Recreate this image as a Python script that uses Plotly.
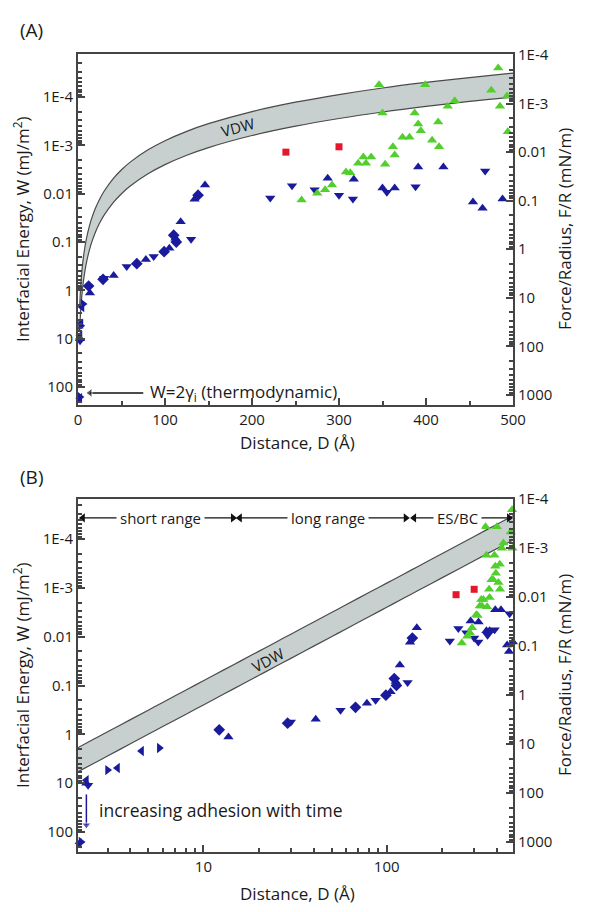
import numpy as np
import plotly.graph_objects as go

# ---------------- data (D in Angstrom, W in mJ/m^2) ----------------
blue_up_D = [2.3, 13.7, 41, 78, 105, 112, 118, 134, 146, 287, 317, 350, 364, 391, 420, 454, 465, 488]
blue_up_W = [10, 1.13, 0.49, 0.23, 0.135, 0.083, 0.038, 0.013, 0.0066, 0.0048, 0.005, 0.0076,
             0.0076, 0.0028, 0.0028, 0.0148, 0.02, 0.0129]

blue_down_D = [2.35, 30, 56, 87, 130, 221, 246, 272, 300, 316, 355, 388, 468]
blue_down_W = [11, 0.56, 0.32, 0.2, 0.087, 0.0123, 0.0068, 0.0083, 0.0107, 0.0129, 0.0093, 0.0072, 0.0034]

blue_diamond_D = [12.2, 28.8, 67.6, 99, 110, 113, 138]
blue_diamond_W = [0.81, 0.59, 0.28, 0.158, 0.072, 0.1, 0.0107]

blue_left_D = [2.1, 2.3, 3.4, 4.6]
blue_left_W = [170, 8.7, 4.9, 2.2]

blue_right_D = [2.15, 3.0, 5.75]
blue_right_W = [160, 5.4, 1.9]

green_D = [257, 275, 284, 292, 308, 313, 322, 331, 328, 337, 346, 350, 353, 362, 364, 373, 381,
           387, 391, 394, 399, 407, 414, 415, 425, 433, 475, 483, 485, 493, 494]
green_W = [0.0135, 0.0098, 0.0083, 0.0066, 0.00355, 0.0037, 0.00234, 0.00234, 0.00174, 0.00174,
           5.6e-5, 2.14e-4, 0.00245, 0.00107, 0.00158, 6.8e-4, 6.8e-4, 2.14e-4, 3.6e-4, 5.0e-4,
           5.6e-5, 7.8e-4, 3.3e-4, 0.00107, 1.55e-4, 1.2e-4, 7.2e-5, 2.5e-5, 1.55e-4, 9.5e-5, 5.2e-4]

red_D = [239, 300]
red_W = [0.00138, 0.00107]

# VDW band edges
band_D = [2, 2.5, 3, 4, 5, 6, 8, 10, 13, 16, 20, 25, 30, 40, 50, 60, 80, 100, 125, 150,
          200, 250, 300, 350, 400, 450, 500]
band_W_low = [2.0, 1.28, 0.889, 0.5, 0.32, 0.222, 0.125, 0.08, 0.0473, 0.03125, 0.02, 0.0128,
              0.00889, 0.005, 0.0032, 0.00222, 0.00125, 0.0008, 0.000512, 0.000356, 0.0002,
              0.000128, 8.9e-5, 6.5e-5, 5.0e-5, 3.95e-5, 3.2e-5]
band_W_high = [6.25, 4.0, 2.78, 1.56, 1.0, 0.694, 0.391, 0.25, 0.148, 0.0977, 0.0625, 0.04,
               0.0278, 0.0156, 0.01, 0.00694, 0.00391, 0.0025, 0.0016, 0.00111, 0.000625,
               0.0004, 0.000278, 0.000204, 0.000156, 0.000123, 0.0001]

# tick labels
W_ticks = [1e-4, 1e-3, 1e-2, 1e-1, 1, 10, 100]
W_ticktext = ["1E-4", "1E-3", "0.01", "0.1", "1", "10", "100"]
FR_ticks = [1e-4, 1e-3, 1e-2, 1e-1, 1, 10, 100, 1000]
FR_ticktext = ["1E-4", "1E-3", "0.01", "0.1", "1", "10", "100", "1000"]
D_lin_ticks = [0, 100, 200, 300, 400, 500]
D_log_ticks = [10, 100]
D_log_ticktext = ["10", "100"]

# annotation anchors (data units)
ranges_B = [("short range", 2.2, 14.5, 5.8), ("long range", 15.8, 127, 47.6), ("ES/BC", 141, 465, 244)]
range_W = 3.7e-5
thermo_arrow_D = [75, 13.8]
thermo_W = 132
adhesion_D = 2.30
adhesion_W = [17, 72]

# ---------------- styling ----------------
BLUE = "#1a1a9c"
GREEN = "#52cf2c"
RED = "#e3182d"
BAND = "#c8d0cf"
FONT = "Open Sans"
TXT = "#1a1a1a"

# page body has an 8px margin: figure is laid out in page pixels shifted by 8
OFF = 8
FW, FH = 573, 896
def px(x):
    return (x - OFF) / FW
def py(y):
    return 1 - (y - OFF) / FH

fig = go.Figure()

def add_panel(xa, ya, yb):
    fig.add_trace(go.Scatter(x=band_D, y=band_W_low, mode="lines", line=dict(color="#4a4a4a", width=1.2, shape="spline"),
                             xaxis=xa, yaxis=ya, showlegend=False, hoverinfo="skip"))
    fig.add_trace(go.Scatter(x=band_D, y=band_W_high, mode="lines", line=dict(color="#4a4a4a", width=1.2, shape="spline"),
                             fill="tonexty", fillcolor=BAND, xaxis=xa, yaxis=ya, showlegend=False, hoverinfo="skip"))
    series = [
        (blue_up_D, blue_up_W, "triangle-up", BLUE, 9),
        (blue_down_D, blue_down_W, "triangle-down", BLUE, 9),
        (blue_diamond_D, blue_diamond_W, "diamond", BLUE, 9),
        (blue_left_D, blue_left_W, "triangle-left", BLUE, 9),
        (blue_right_D, blue_right_W, "triangle-right", BLUE, 9),
        (green_D, green_W, "triangle-up", GREEN, 9),
        (red_D, red_W, "square", RED, 7),
    ]
    for dx, wy, sym, col, sz in series:
        fig.add_trace(go.Scatter(x=dx, y=wy, mode="markers", cliponaxis=False,
                                 marker=dict(symbol=sym, color=col, size=sz, line=dict(width=0)),
                                 xaxis=xa, yaxis=ya, showlegend=False))
    fig.add_trace(go.Scatter(x=[None], y=[None], xaxis=xa, yaxis=yb, showlegend=False))

add_panel("x", "y", "y2")
add_panel("x2", "y3", "y4")

# thermodynamic arrow (panel A)
fig.add_trace(go.Scatter(x=thermo_arrow_D, y=[thermo_W, thermo_W], mode="lines+markers", cliponaxis=False,
                         line=dict(color="#111", width=1.5),
                         marker=dict(symbol=["circle", "triangle-left"], size=[0, 8], color="#111"),
                         xaxis="x", yaxis="y", showlegend=False))
# adhesion arrow (panel B)
fig.add_trace(go.Scatter(x=[adhesion_D, adhesion_D], y=adhesion_W, mode="lines+markers", cliponaxis=False,
                         line=dict(color=BLUE, width=1.5),
                         marker=dict(symbol=["circle", "triangle-down"], size=[0, 8], color=BLUE),
                         xaxis="x2", yaxis="y3", showlegend=False))
# range arrows (panel B)
for name, d0, d1, dc in ranges_B:
    fig.add_trace(go.Scatter(x=[d0, d1], y=[range_W, range_W], mode="lines+markers", cliponaxis=False,
                             line=dict(color="#111", width=1.3),
                             marker=dict(symbol=["triangle-left", "triangle-right"], size=8, color="#111"),
                             xaxis="x2", yaxis="y3", showlegend=False))

# ---------------- axes ----------------
minor_log = [k * 10.0 ** e for e in range(-5, 4) for k in range(2, 10)]
minor_D = [k * 10.0 ** e for e in range(0, 3) for k in range(2, 10)]

xdom = [px(78), px(513)]
yA = [py(405), py(54)]
yB = [py(852), py(499)]

tickfont = dict(family=FONT, size=15, color=TXT)
common = dict(showline=True, linecolor="#444", linewidth=2, ticks="inside", tickcolor="#444",
              tickwidth=1.5, ticklen=7, showgrid=False, zeroline=False, tickfont=tickfont,
              automargin=False)

def ylog(rng, tv, tt, **kw):
    d = dict(common)
    d.update(type="log", range=rng, tickmode="array", tickvals=tv, ticktext=tt,
             minor=dict(tickvals=minor_log, ticks="inside", ticklen=4, tickcolor="#444", showgrid=False))
    d.update(kw)
    return d

fig.update_layout(
    width=FW, height=FH, margin=dict(l=0, r=0, t=0, b=0, autoexpand=False),
    paper_bgcolor="white", plot_bgcolor="white",
    font=dict(family=FONT, color=TXT),
    xaxis=dict(common, domain=xdom, anchor="y", range=[0, 500], tickmode="array", tickvals=D_lin_ticks,
               mirror=True, minor=dict(dtick=50, ticks="inside", ticklen=4, tickcolor="#444")),
    yaxis=ylog([2.37, -4.89], W_ticks, W_ticktext, domain=yA, anchor="x"),
    yaxis2=ylog([3.21, -4.02], FR_ticks, FR_ticktext, overlaying="y", side="right", anchor="x"),
    xaxis2=dict(common, domain=xdom, anchor="y3", type="log", range=[0.316, 2.689], tickmode="array",
                tickvals=D_log_ticks, ticktext=D_log_ticktext, mirror=True,
                minor=dict(tickvals=minor_D, ticks="inside", ticklen=4, tickcolor="#444")),
    yaxis3=ylog([2.41, -4.82], W_ticks, W_ticktext, domain=yB, anchor="x2"),
    yaxis4=ylog([3.2, -4.0], FR_ticks, FR_ticktext, overlaying="y3", side="right", anchor="x2"),
)

ann = []
tfont = dict(family=FONT, size=17, color=TXT)
C = dict(xanchor="center", yanchor="middle", showarrow=False)
ann.append(dict(C, text="(A)", x=px(31), y=py(30), xref="paper", yref="paper",
                font=dict(family=FONT, size=19, color=TXT)))
ann.append(dict(C, text="(B)", x=px(31), y=py(477), xref="paper", yref="paper",
                font=dict(family=FONT, size=19, color=TXT)))
for yc in [229, 675]:
    ann.append(dict(C, text="Interfacial Energy, W (mJ/m<sup>2</sup>)", x=px(21), y=py(yc), xref="paper",
                    yref="paper", textangle=-90, font=tfont))
    ann.append(dict(C, text="Force/Radius, F/R (mN/m)", x=px(564), y=py(yc), xref="paper",
                    yref="paper", textangle=-90, font=tfont))
for yc in [442, 893]:
    ann.append(dict(C, text="Distance, D (Å)", x=px(297), y=py(yc), xref="paper", yref="paper", font=tfont))
ann.append(dict(C, text="VDW", x=184, y=np.log10(4.2e-4), xref="x", yref="y", textangle=-15,
                font=dict(family=FONT, size=15, color=TXT)))
ann.append(dict(C, text="VDW", x=np.log10(22.4), y=np.log10(0.030), xref="x2", yref="y3",
                textangle=-28, font=dict(family=FONT, size=15, color=TXT)))
ann.append(dict(text="W=2γ<sub>i</sub> (thermodynamic)", x=80.5, y=np.log10(thermo_W), xref="x", yref="y",
                xanchor="left", yanchor="middle", showarrow=False, font=dict(family=FONT, size=17, color=TXT)))
ann.append(dict(text="increasing adhesion with time", x=np.log10(2.64), y=np.log10(35), xref="x2", yref="y3",
                xanchor="left", yanchor="middle", showarrow=False, font=dict(family=FONT, size=17.5, color=TXT)))
for name, d0, d1, dc in ranges_B:
    ann.append(dict(C, text=name, x=np.log10(dc), y=np.log10(range_W), xref="x2", yref="y3",
                    bgcolor="white", borderpad=3, font=dict(family=FONT, size=15, color=TXT)))
fig.update_layout(annotations=ann)

fig.write_html("out.html")
